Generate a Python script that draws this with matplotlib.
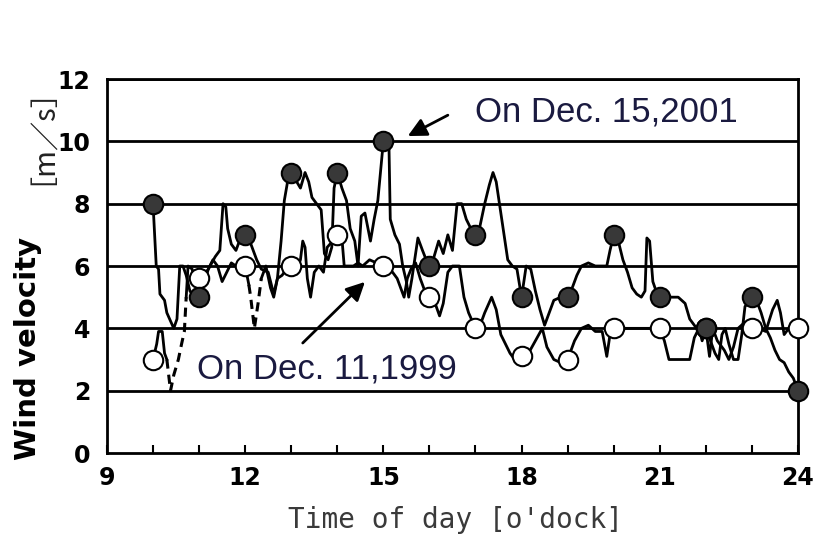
import matplotlib
matplotlib.use("Agg")
import matplotlib.pyplot as plt

# Hourly readings (markers)
hours = [10, 11, 12, 13, 14, 15, 16, 17, 18, 19, 20, 21, 22, 23, 24]
wind_2001_hourly = [8, 5, 7, 9, 9, 10, 6, 7, 5, 5, 7, 5, 4, 5, 2]
wind_1999_hourly = [3, 5.6, 6, 6, 7, 6, 5, 4, 3.1, 3, 4, 4, 4, 4, 4]

# Continuous record, Dec. 15, 2001
t_2001 = [10.0, 10.07, 10.12, 10.15, 10.25, 10.3, 10.45, 10.52, 10.58, 10.65, 10.72, 10.8,
          10.9, 11.0, 11.1, 11.2, 11.35, 11.45, 11.52, 11.58, 11.62, 11.7, 11.8, 11.9, 12.0,
          12.1, 12.25, 12.35, 12.5, 12.62, 12.7, 12.78, 12.85, 12.92, 13.0, 13.12, 13.2, 13.3,
          13.38, 13.45, 13.55, 13.65, 13.72, 13.8, 13.88, 13.93, 14.0, 14.1, 14.2, 14.28,
          14.38, 14.45, 14.52, 14.6, 14.72, 14.8, 14.88, 14.95, 15.0, 15.12, 15.15, 15.25,
          15.35, 15.42, 15.5, 15.55, 15.62, 15.75, 15.85, 15.93, 16.0, 16.1, 16.2, 16.3, 16.4,
          16.5, 16.6, 16.7, 16.8, 16.9, 17.0, 17.1, 17.2, 17.3, 17.38, 17.45, 17.52, 17.6,
          17.7, 17.8, 17.9, 18.0, 18.1, 18.2, 18.3, 18.4, 18.5, 18.6, 18.7, 18.85, 19.0, 19.1,
          19.2, 19.3, 19.45, 19.6, 19.85, 19.92, 20.0, 20.1, 20.2, 20.3, 20.4, 20.5, 20.6,
          20.68, 20.72, 20.78, 20.85, 20.92, 21.0, 21.2, 21.4, 21.55, 21.65, 21.8, 22.0, 22.1,
          22.2, 22.28, 22.35, 22.42, 22.5, 22.6, 22.7, 22.78, 22.85, 23.0, 23.1, 23.2, 23.3,
          23.4, 23.5, 23.6, 23.7, 23.8, 23.9, 24.0]
v_2001 = [8.0, 6.0, 5.9, 5.1, 4.9, 4.5, 4.0, 4.3, 6.0, 6.0, 5.7, 5.2,
          5.0, 5.0, 5.4, 5.9, 6.3, 6.5, 8.0, 7.9, 7.2, 6.7, 6.5, 6.9, 7.0,
          6.8, 6.2, 5.9, 5.8, 5.1, 5.6, 6.8, 8.1, 8.7, 9.0, 8.7, 8.5, 9.0,
          8.7, 8.2, 8.0, 7.8, 6.4, 6.2, 6.6, 8.5, 9.0, 8.5, 8.1, 7.2,
          6.8, 6.0, 7.6, 7.7, 6.8, 7.5, 8.1, 9.2, 10.0, 10.0, 7.5, 7.0,
          6.7, 6.0, 5.5, 5.0, 5.6, 6.9, 6.5, 6.2, 6.0, 6.3, 6.8, 6.4, 7.0,
          6.5, 8.0, 8.0, 7.5, 7.2, 7.0, 7.3, 8.0, 8.6, 9.0, 8.7, 8.0, 7.2,
          6.2, 6.0, 5.9, 5.0, 6.0, 5.9, 5.2, 4.6, 4.1, 4.5, 4.9, 5.0, 5.0, 5.3,
          5.7, 6.0, 6.1, 6.0, 6.0, 6.5, 7.0, 6.8, 6.2, 5.8, 5.3, 5.1, 5.0,
          5.2, 6.9, 6.8, 5.5, 5.2, 5.0, 5.0, 5.0, 4.8, 4.3, 4.0, 4.0, 3.6,
          3.2, 3.0, 3.8, 4.0, 3.5, 3.0, 3.0, 3.8, 4.7, 5.0, 4.9, 4.5, 4.0,
          3.7, 3.3, 3.0, 2.9, 2.6, 2.4, 2.0]

# Continuous record, Dec. 11, 1999
t_1999 = [10.0, 10.08, 10.12, 10.2, 10.25, 10.3, 10.38, 10.45, 10.55, 10.62, 10.68, 10.72,
          10.76, 10.85, 10.9, 11.0, 11.1, 11.2, 11.3, 11.4, 11.5, 11.6, 11.7, 11.8, 11.9,
          12.0, 12.08, 12.12, 12.2, 12.28, 12.35, 12.45, 12.55, 12.62, 12.7, 12.8, 12.9,
          13.0, 13.1, 13.2, 13.25, 13.3, 13.35, 13.42, 13.5, 13.6, 13.7, 13.78, 13.9, 14.0,
          14.1, 14.15, 14.25, 14.35, 14.45, 14.55, 14.7, 14.85, 15.0, 15.1, 15.2, 15.3,
          15.45, 15.52, 15.6, 15.7, 15.8, 15.9, 16.0, 16.1, 16.22, 16.3, 16.4, 16.5, 16.65,
          16.75, 16.85, 17.0, 17.1, 17.2, 17.35, 17.45, 17.55, 17.65, 17.75, 17.85, 18.0,
          18.15, 18.3, 18.45, 18.55, 18.7, 18.85, 19.0, 19.15, 19.3, 19.45, 19.6, 19.75,
          19.85, 19.92, 20.0, 20.3, 20.6, 21.0, 21.1, 21.2, 21.4, 21.65, 21.75, 21.85, 21.92,
          22.0, 22.08, 22.15, 22.25, 22.4, 22.5, 22.6, 22.7, 22.85, 23.0, 23.15, 23.3, 23.45,
          23.55, 23.62, 23.7, 23.8, 24.0]
v_1999 = [3.0, 3.5, 3.9, 3.9, 3.2, 3.0, 2.0, 2.5, 3.0, 3.5, 3.9, 5.0,
          6.0, 5.9, 5.5, 5.6, 5.7, 5.9, 6.2, 6.0, 5.5, 5.8, 6.1, 6.0, 6.2,
          6.0, 5.4, 5.0, 4.0, 4.8, 5.6, 6.0, 5.3, 5.0, 5.6, 5.7, 5.9,
          6.0, 5.8, 6.2, 6.8, 6.6, 5.6, 5.0, 5.8, 6.0, 5.8, 6.6, 6.8, 7.0,
          6.9, 6.0, 6.0, 6.0, 6.1, 6.0, 6.2, 6.1, 6.0, 6.0, 5.8, 5.6,
          5.0, 5.6, 5.9, 6.1, 5.6, 5.2, 5.0, 4.9, 4.4, 4.8, 5.8, 6.0, 6.0,
          5.0, 4.5, 4.0, 4.1, 4.5, 5.0, 4.6, 3.8, 3.5, 3.2, 3.0, 3.1,
          3.2, 3.6, 4.0, 3.4, 3.0, 2.9, 3.0, 3.6, 4.0, 4.1, 3.9, 3.9,
          3.1, 3.8, 4.0, 4.0, 4.0, 4.0, 3.6, 3.0, 3.0, 3.0, 3.7, 4.0, 3.6,
          4.0, 3.1, 4.0, 3.6, 3.3, 3.0, 3.4, 4.0, 4.2, 4.0, 4.0, 3.9, 4.6,
          4.9, 4.5, 3.8, 4.0, 4.0]

# Stretches of the 1999 record drawn broken (start, end as indices into t_1999)
broken_1999 = [(5, 11), (26, 30)]

x_ticks = [9, 12, 15, 18, 21, 24]
y_ticks = [0, 2, 4, 6, 8, 10, 12]

fig = plt.figure(figsize=(8.14, 5.45), dpi=100)
ax = fig.add_axes([0.1314, 0.1688, 0.8489, 0.6862])

ax.set_xlim(9, 24)
ax.set_ylim(0, 12)

for y in y_ticks[1:]:
    ax.axhline(y, color="black", lw=2.0, zorder=1)

# 1999 line: solid pieces with broken (dashed) stretches in between
start = 0
for a, b in broken_1999:
    ax.plot(t_1999[start:a + 1], v_1999[start:a + 1], color="black", lw=2.0, zorder=2)
    ax.plot(t_1999[a:b + 1], v_1999[a:b + 1], color="black", lw=2.2, zorder=2,
            ls=(0, (3, 2)))
    start = b
ax.plot(t_1999[start:], v_1999[start:], color="black", lw=2.0, zorder=2, clip_on=False)

ax.plot(t_2001, v_2001, color="black", lw=2.0, zorder=2, clip_on=False)
ax.plot(hours, wind_1999_hourly, ls="none", marker="o", ms=14, mfc="white",
        mec="black", mew=1.5, zorder=4, clip_on=False)
ax.plot(hours, wind_2001_hourly, ls="none", marker="o", ms=14, mfc="#383838",
        mec="black", mew=1.5, zorder=5, clip_on=False)

for s in ax.spines.values():
    s.set_linewidth(2.0)
    s.set_color("black")

ax.set_xticks(x_ticks)
ax.set_xticks(range(9, 25), minor=True)
ax.set_yticks(y_ticks)
ax.tick_params(axis="x", which="both", direction="in", length=6, width=1.5,
               pad=9, labelsize=17)
ax.tick_params(axis="y", which="both", length=0, pad=12, labelsize=17)
for lab in ax.get_xticklabels() + ax.get_yticklabels():
    lab.set_fontweight("bold")
    lab.set_family("DejaVu Sans")

txt_color = "#1a1a40"
ax.text(16.99, 10.94, "On Dec. 15,2001", family="Liberation Sans", fontsize=25,
        color=txt_color, va="center", ha="left", zorder=6)
ax.text(10.95, 2.69, "On Dec. 11,1999", family="Liberation Sans", fontsize=25,
        color=txt_color, va="center", ha="left", zorder=6)
arrow = dict(arrowstyle="-|>", lw=2.0, color="black", mutation_scale=28,
             shrinkA=0, shrinkB=0)
ax.annotate("", xy=(15.53, 10.17), xytext=(16.40, 10.84), arrowprops=arrow, zorder=6)
ax.annotate("", xy=(14.60, 5.49), xytext=(13.25, 3.53), arrowprops=arrow, zorder=6)

fig.text(455 / 814, 1 - 520 / 545, "Time of day [o'dock]", family="DejaVu Sans Mono",
         fontsize=20, color="#3a3a3a", ha="center", va="center")
fig.text(28 / 814, 1 - 348 / 545, "Wind velocity", family="DejaVu Sans", fontweight="bold",
         fontsize=21, rotation=90, ha="center", va="center")
fig.text(28 / 814, 1 - 121 / 545, "［m／s］", family=["Noto Sans CJK JP", "DejaVu Sans"],
         fontsize=21, rotation=90, ha="center", va="center", color="#222222")

fig.savefig("out.png", dpi=100)
